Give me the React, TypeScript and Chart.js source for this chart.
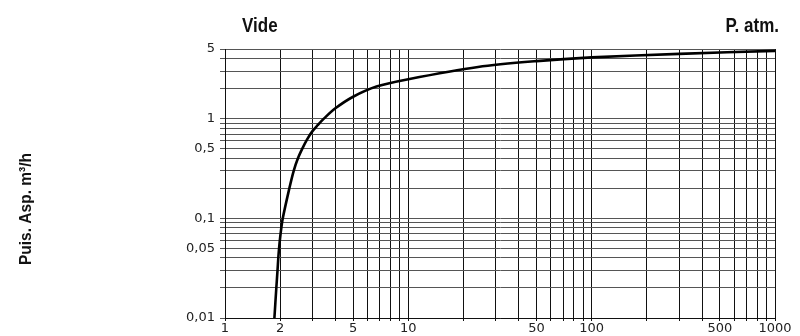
import React, { useEffect, useRef } from 'react';
import { Chart, registerables } from 'chart.js';

Chart.register(...registerables);

// Curve (x: pressure scale, y: suction power m³/h)
const curveX = [1.86, 1.905, 1.934, 1.953, 1.972, 2.01, 2.066, 2.244, 2.37, 2.5, 2.64, 2.8, 3.0, 3.2, 3.45, 4, 5, 6.7, 10, 24, 50, 100, 300, 1000];
const curveY = [0.01, 0.02, 0.03, 0.04, 0.05, 0.07, 0.1, 0.2, 0.3, 0.4, 0.5, 0.617, 0.75, 0.86, 0.995, 1.27, 1.66, 2.1, 2.49, 3.3, 3.78, 4.12, 4.47, 4.79];

// Grid positions (log paper)
const xGrid = [1, 2, 3, 4, 5, 6, 7, 8, 9, 10, 20, 30, 40, 50, 60, 70, 80, 90, 100, 200, 300, 400, 500, 600, 700, 800, 900, 1000];
const yGrid = [0.01, 0.02, 0.03, 0.04, 0.05, 0.06, 0.07, 0.08, 0.09, 0.1, 0.2, 0.3, 0.4, 0.5, 0.6, 0.7, 0.8, 0.9, 1, 2, 3, 4, 5];

// Tick labels
const xTickValues = [1, 2, 5, 10, 50, 100, 500, 1000];
const xTickLabels = ['1', '2', '5', '10', '50', '100', '500', '1000'];
const yTickValues = [0.01, 0.05, 0.1, 0.5, 1, 5];
const yTickLabels = ['0,01', '0,05', '0,1', '0,5', '1', '5'];

const topLeftLabel = 'Vide';
const topRightLabel = 'P. atm.';
const yTitle = 'Puis. Asp. m³/h';

export default function App() {
  const ref = useRef<HTMLCanvasElement>(null);

  useEffect(() => {
    if (!ref.current) return;

    const textPlugin = {
      id: 'extraTexts',
      afterDraw(chart: any) {
        const ctx = chart.ctx as CanvasRenderingContext2D;
        const area = chart.chartArea;
        ctx.save();
        ctx.fillStyle = '#111';
        ctx.textBaseline = 'alphabetic';
        ctx.font = 'bold 20px "Liberation Sans", Arial, sans-serif';

        ctx.save();
        ctx.translate(area.left + 17, 32);
        ctx.scale(0.85, 1);
        ctx.textAlign = 'left';
        ctx.fillText(topLeftLabel, 0, 0);
        ctx.restore();

        ctx.save();
        ctx.translate(area.right + 4, 32);
        ctx.scale(0.85, 1);
        ctx.textAlign = 'right';
        ctx.fillText(topRightLabel, 0, 0);
        ctx.restore();

        ctx.save();
        ctx.font = 'bold 17px "Liberation Sans", Arial, sans-serif';
        const w = ctx.measureText(yTitle).width;
        ctx.translate(31, 209);
        ctx.rotate(-Math.PI / 2);
        ctx.scale(112 / w, 1);
        ctx.textAlign = 'center';
        ctx.fillText(yTitle, 0, 0);
        ctx.restore();

        ctx.restore();
      },
    };

    const points = curveX.map((x, i) => ({ x, y: curveY[i] }));

    const chart = new Chart(ref.current, {
      type: 'scatter',
      data: {
        datasets: [
          {
            data: points,
            showLine: true,
            borderColor: '#000',
            borderWidth: 2.6,
            pointRadius: 0,
            tension: 0.3,
            fill: false,
          },
        ],
      },
      options: {
        responsive: false,
        animation: false,
        layout: { padding: { top: 49, right: 25, left: 0, bottom: 0 } },
        plugins: {
          legend: { display: false },
          tooltip: { enabled: false },
        },
        scales: {
          x: {
            type: 'logarithmic',
            min: 1,
            max: 1000,
            afterBuildTicks: (scale: any) => {
              scale.ticks = xGrid.map((v) => ({ value: v }));
            },
            afterFit: (scale: any) => {
              scale.height = 18;
            },
            ticks: {
              autoSkip: false,
              maxRotation: 0,
              padding: 0,
              color: '#222',
              font: { family: '"DejaVu Sans", sans-serif', size: 13 },
              callback: (value: any) => {
                const i = xTickValues.indexOf(Number(value));
                return i >= 0 ? xTickLabels[i] : '';
              },
            },
            grid: {
              color: '#111',
              lineWidth: 1,
              tickLength: 3,
            },
            border: { display: true, color: '#111', width: 1 },
          },
          y: {
            type: 'logarithmic',
            min: 0.01,
            max: 5,
            afterBuildTicks: (scale: any) => {
              scale.ticks = yGrid.map((v) => ({ value: v }));
            },
            afterFit: (scale: any) => {
              scale.width = 225;
            },
            ticks: {
              autoSkip: false,
              padding: 5,
              color: '#222',
              font: { family: '"DejaVu Sans", sans-serif', size: 13 },
              callback: (value: any) => {
                const i = yTickValues.findIndex((v) => Math.abs(v - Number(value)) < 1e-9);
                return i >= 0 ? yTickLabels[i] : '';
              },
            },
            grid: {
              color: '#555',
              lineWidth: 1,
              tickLength: 5,
            },
            border: { display: true, color: '#111', width: 1 },
          },
        },
      },
      plugins: [textPlugin],
    } as any);

    return () => chart.destroy();
  }, []);

  return (
    <div style={{ position: 'absolute', left: 0, top: 0, width: 800, height: 336, background: '#fff' }}>
      <canvas ref={ref} width={800} height={336} style={{ display: 'block' }} />
    </div>
  );
}
